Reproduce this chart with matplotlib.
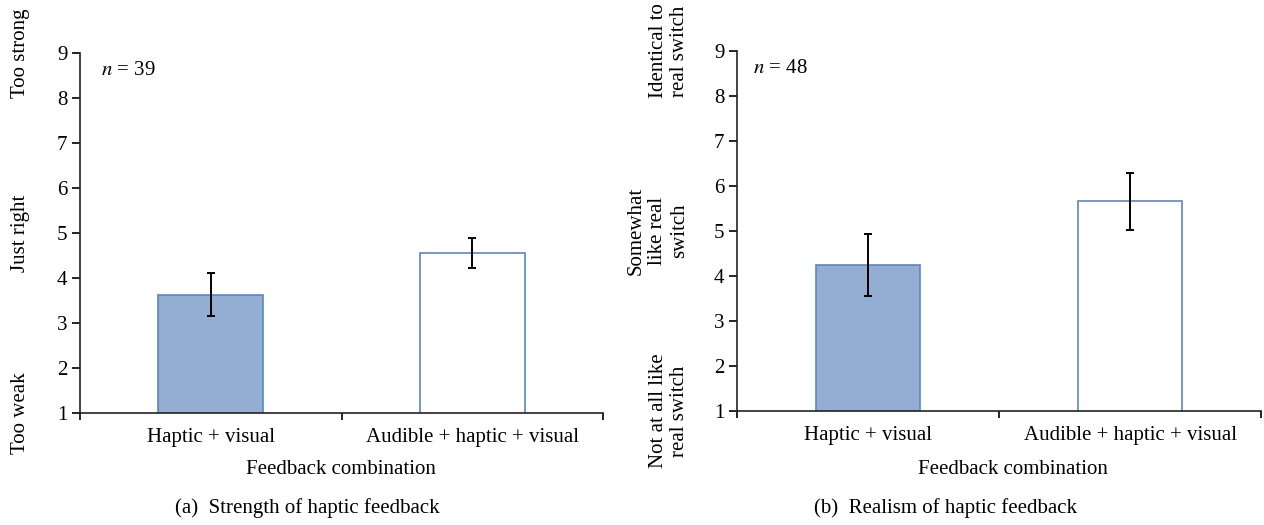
import numpy as np
import matplotlib
matplotlib.use('Agg')
import matplotlib.pyplot as plt

plt.rcParams['font.family'] = ['Liberation Serif', 'DejaVu Serif']
plt.rcParams['mathtext.fontset'] = 'stix'

categories = ['Haptic + visual', 'Audible + haptic + visual']

strength_means = [3.63, 4.56]
strength_errs = [0.48, 0.33]
strength_n = 39

realism_means = [4.25, 5.66]
realism_errs = [0.69, 0.63]
realism_n = 48

strength_scale = ['Too weak', 'Just right', 'Too strong']
realism_scale = ['Not at all like\nreal switch', 'Somewhat\nlike real\nswitch', 'Identical to\nreal switch']
scale_pos = [1, 5, 9]

captions = ['(a)  Strength of haptic feedback', '(b)  Realism of haptic feedback']

FILL = '#93aed2'
EDGE = '#5b86c0'
W, H = 1264, 525
FS = 15


def draw_panel(ax, means, errs, n, nx):
    x = np.arange(len(categories))
    ax.bar(x, means, width=0.4, color=[FILL, 'white'], edgecolor=EDGE, linewidth=1.2, zorder=2)
    ax.errorbar(x, means, yerr=errs, fmt='none', ecolor='black', elinewidth=1.4, capsize=2.6, capthick=1.4, zorder=3)
    ax.set_xlim(-0.5, len(categories) - 0.5)
    ax.set_ylim(1, 9)
    ax.set_yticks(range(1, 10))
    ax.set_xticks([-0.5, 0.5, 1.5])
    ax.set_xticklabels([])
    ax.set_xticks(x, minor=True)
    ax.set_xticklabels(categories, minor=True, fontsize=FS)
    ax.tick_params(axis='x', which='minor', length=0, pad=11)
    ax.tick_params(axis='x', which='major', direction='out', length=5, width=1.2)
    ax.tick_params(axis='y', direction='out', length=6, width=1.2, labelsize=FS, pad=3)
    for s in ['top', 'right']:
        ax.spines[s].set_visible(False)
    for s in ['left', 'bottom']:
        ax.spines[s].set_linewidth(1.2)
        ax.spines[s].set_color('#222222')
    ax.text(nx, 8.62, r'$n$ = %d' % n, fontsize=FS, va='center', ha='left')


fig = plt.figure(figsize=(W / 100, H / 100), dpi=100)
ax1 = fig.add_axes([80 / W, 1 - 413 / H, 523 / W, 360 / H])
ax2 = fig.add_axes([737 / W, 1 - 411 / H, 524 / W, 360 / H])

draw_panel(ax1, strength_means, strength_errs, strength_n, -0.5 + (101 - 80) / 262)
draw_panel(ax2, realism_means, realism_errs, realism_n, -0.5 + (753 - 737) / 262)

# scale anchors on the left of each panel
for lab, yv in zip(strength_scale, scale_pos):
    ax1.annotate(lab, xy=(21 / W, yv), xycoords=('figure fraction', 'data'),
                 rotation=90, ha='center', va='center', fontsize=FS, annotation_clip=False)
for lab, yv, xp in zip(realism_scale, scale_pos, [669, 658, 669]):
    ax2.annotate(lab, xy=(xp / W, yv), xycoords=('figure fraction', 'data'),
                 rotation=90, ha='center', va='center', fontsize=FS, linespacing=1.2,
                 annotation_clip=False, multialignment='center')

fig.text(341 / W, 1 - 469 / H, 'Feedback combination', ha='center', va='center', fontsize=FS)
fig.text(1013 / W, 1 - 469 / H, 'Feedback combination', ha='center', va='center', fontsize=FS)
fig.text(307 / W, 1 - 508 / H, captions[0], ha='center', va='center', fontsize=FS)
fig.text(945 / W, 1 - 508 / H, captions[1], ha='center', va='center', fontsize=FS)

fig.savefig('out.png', dpi=100)
